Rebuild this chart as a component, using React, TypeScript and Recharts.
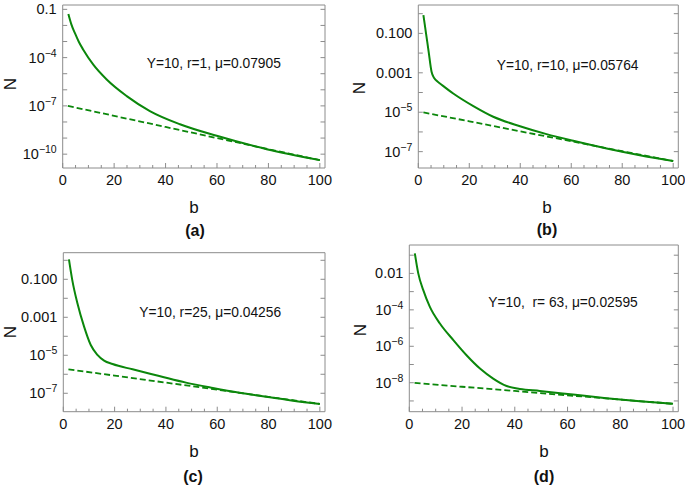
import { LineChart, Line, XAxis, YAxis } from "recharts";

const GREEN = "#0b870b";
const FRAME = "#8c8c8c";
const FONT = '"Liberation Sans", Arial, sans-serif';

// x ticks shared by every panel (b)
const bTicks = [0, 5, 10, 15, 20, 25, 30, 35, 40, 45, 50, 55, 60, 65, 70, 75, 80, 85, 90, 95, 100];
const bDash = [2, 20, 40, 60, 80, 100];

// (a) Y=10, r=1  -- values are log10(N)
const bSolidA = [2.2, 3.3, 4.8, 6.3, 8, 11.9, 17.1, 24.9, 33.9, 45.6, 59.9, 79.3, 100];
const logNSolidA = [-1.29, -1.9, -2.5, -3.03, -3.51, -4.44, -5.36, -6.39, -7.32, -8.14, -8.86, -9.69, -10.37];
const logNDashA = [-7.0, -7.62, -8.31, -9.0, -9.69, -10.37];

// (b) Y=10, r=10
const bSolidB = [2, 3, 4, 5.2, 6.3, 7.3, 8.5, 13.7, 21.6, 29.4, 39.9, 50.3, 60.8, 73.9, 86.9, 100];
const logNSolidB = [-0.07, -0.97, -1.87, -2.95, -3.28, -3.42, -3.54, -4.05, -4.69, -5.23, -5.71, -6.11, -6.45, -6.84, -7.18, -7.48];
const logNDashB = [-5.01, -5.46, -5.97, -6.47, -6.98, -7.48];

// (c) Y=10, r=25
const bSolidC = [2.2, 3.5, 5.5, 8.1, 10.7, 13.3, 15.9, 19.2, 27, 37.4, 47.8, 58.3, 68.7, 79.1, 89.6, 100];
const logNSolidC = [0.05, -1.04, -2.26, -3.49, -4.46, -4.98, -5.28, -5.46, -5.74, -6.09, -6.44, -6.72, -6.97, -7.18, -7.39, -7.56];
const logNDashC = [-5.74, -6.07, -6.44, -6.81, -7.19, -7.56];

// (d) Y=10, r=63
const bSolidD = [2.1, 3.4, 5.3, 7.8, 11.6, 16.7, 21.7, 26.8, 31.8, 36.9, 41.9, 49.5, 62.1, 74.7, 87.4, 100];
const logNSolidD = [-0.9, -2.0, -2.92, -3.84, -4.75, -5.66, -6.49, -7.22, -7.77, -8.18, -8.34, -8.45, -8.65, -8.85, -9.02, -9.16];
const logNDashD = [-8.01, -8.22, -8.45, -8.69, -8.92, -9.16];

// y ticks (decades) and their labels
const yTicksA = [-10, -9, -8, -7, -6, -5, -4, -3, -2, -1];
const yLabelsA: Record<number, string> = { [-1]: "0.1", [-4]: "10^−4", [-7]: "10^−7", [-10]: "10^−10" };
const yTicksB = [-7, -6, -5, -4, -3, -2, -1, 0];
const yLabelsB: Record<number, string> = { [-1]: "0.100", [-3]: "0.001", [-5]: "10^−5", [-7]: "10^−7" };
const yTicksC = [-7, -6, -5, -4, -3, -2, -1, 0];
const yLabelsC: Record<number, string> = { [-1]: "0.100", [-3]: "0.001", [-5]: "10^−5", [-7]: "10^−7" };
const yTicksD = [-9, -8, -7, -6, -5, -4, -3, -2, -1];
const yLabelsD: Record<number, string> = { [-2]: "0.01", [-4]: "10^−4", [-6]: "10^−6", [-8]: "10^−8" };

const toPoints = (bs: number[], ns: number[]) => bs.map((b, i) => ({ b, n: ns[i] }));

// axes take 1px each, margins are reduced by that amount
const AX = 1;

const panels = [
  {
    key: "a",
    box: { left: 0, top: 0, width: 340, height: 240 },
    plot: { top: 5, left: 62.7, right: 15, bottom: 72 },
    yDomain: [-10.86, -0.73],
    yTicks: yTicksA,
    yLabels: yLabelsA,
    solid: toPoints(bSolidA, logNSolidA),
    dash: toPoints(bDash, logNDashA),
  },
  {
    key: "b",
    box: { left: 340, top: 0, width: 345, height: 240 },
    plot: { top: 5, left: 78.3, right: 6.7, bottom: 72 },
    yDomain: [-7.83, 0.44],
    yTicks: yTicksB,
    yLabels: yLabelsB,
    solid: toPoints(bSolidB, logNSolidB),
    dash: toPoints(bDash, logNDashB),
  },
  {
    key: "c",
    box: { left: 0, top: 240, width: 340, height: 245 },
    plot: { top: 12.7, left: 63.3, right: 15, bottom: 73.3 },
    yDomain: [-7.97, 0.4],
    yTicks: yTicksC,
    yLabels: yLabelsC,
    solid: toPoints(bSolidC, logNSolidC),
    dash: toPoints(bDash, logNDashC),
  },
  {
    key: "d",
    box: { left: 340, top: 240, width: 345, height: 245 },
    plot: { top: 5, left: 69.3, right: 6.7, bottom: 73.3 },
    yDomain: [-9.59, -0.44],
    yTicks: yTicksD,
    yLabels: yLabelsD,
    solid: toPoints(bSolidD, logNSolidD),
    dash: toPoints(bDash, logNDashD),
  },
];

const BottomTick = (props: any) => {
  const { x, y, payload } = props;
  const major = payload.value % 20 === 0;
  return (
    <g>
      <line x1={x} x2={x} y1={y} y2={y - (major ? 5 : 3)} stroke={FRAME} />
      {major && (
        <text x={x} y={y + 17} textAnchor="middle" fontSize={14.5} fill="#111" fontFamily={FONT}>
          {payload.value}
        </text>
      )}
    </g>
  );
};

const TopTick = (props: any) => {
  const { x, y, payload } = props;
  const major = payload.value % 20 === 0;
  return <line x1={x} x2={x} y1={y} y2={y + (major ? 5 : 3)} stroke={FRAME} />;
};

const makeLeftTick = (labels: Record<number, string>) => (props: any) => {
  const { x, y, payload } = props;
  const label = labels[payload.value];
  let content: any = null;
  if (label) {
    const parts = label.split("^");
    content = (
      <text x={x - 6} y={y + 5} textAnchor="end" fontSize={14.5} fill="#111" fontFamily={FONT}>
        {parts[0]}
        {parts[1] && (
          <tspan dy={-6} fontSize={10.5}>
            {parts[1]}
          </tspan>
        )}
      </text>
    );
  }
  return (
    <g>
      <line x1={x} x2={x + 4.5} y1={y} y2={y} stroke={FRAME} />
      {content}
    </g>
  );
};

const RightTick = (props: any) => {
  const { x, y } = props;
  return <line x1={x} x2={x - 4.5} y1={y} y2={y} stroke={FRAME} />;
};

// annotation, axis titles and panel letters
const notes = [
  { text: "Y=10, r=1, μ=0.07905", x: 146.7, y: 68 },
  { text: "Y=10, r=10, μ=0.05764", x: 496.7, y: 70 },
  { text: "Y=10, r=25, μ=0.04256", x: 139.3, y: 316.5 },
  { text: "Y=10,  r= 63, μ=0.02595", x: 488.3, y: 306.5 },
];
const bTitles = [
  { x: 194, y: 212.5 },
  { x: 547, y: 212.5 },
  { x: 194, y: 457 },
  { x: 544, y: 457 },
];
const panelLetters = [
  { text: "(a)", x: 195, y: 236 },
  { text: "(b)", x: 547, y: 235 },
  { text: "(c)", x: 193, y: 482 },
  { text: "(d)", x: 544, y: 482 },
];
const nTitles = [
  { x: 10, y: 84 },
  { x: 359.5, y: 88 },
  { x: 10, y: 332 },
  { x: 360, y: 330 },
];

export default function App() {
  return (
    <div
      style={{
        position: "absolute",
        left: 0,
        top: 0,
        width: 685,
        height: 485,
        background: "#fff",
        fontFamily: FONT,
        overflow: "hidden",
      }}
    >
      {panels.map((p) => (
        <div key={p.key} style={{ position: "absolute", left: p.box.left, top: p.box.top }}>
          <LineChart
            width={p.box.width}
            height={p.box.height}
            margin={{
              top: p.plot.top - AX,
              left: p.plot.left - AX,
              right: p.plot.right - AX,
              bottom: p.plot.bottom - AX,
            }}
          >
            <XAxis
              dataKey="b"
              type="number"
              domain={[0, 102]}
              ticks={bTicks}
              interval={0}
              height={AX}
              tickSize={0}
              tickMargin={0}
              tickLine={false}
              axisLine={{ stroke: FRAME }}
              tick={BottomTick}
              allowDataOverflow
            />
            <XAxis
              xAxisId="top"
              orientation="top"
              type="number"
              domain={[0, 102]}
              ticks={bTicks}
              interval={0}
              height={AX}
              tickSize={0}
              tickMargin={0}
              tickLine={false}
              axisLine={{ stroke: FRAME }}
              tick={TopTick}
              allowDataOverflow
            />
            <YAxis
              type="number"
              domain={p.yDomain}
              ticks={p.yTicks}
              interval={0}
              width={AX}
              tickSize={0}
              tickMargin={0}
              tickLine={false}
              axisLine={{ stroke: FRAME }}
              tick={makeLeftTick(p.yLabels)}
              allowDataOverflow
            />
            <YAxis
              yAxisId="right"
              orientation="right"
              type="number"
              domain={p.yDomain}
              ticks={p.yTicks}
              interval={0}
              width={AX}
              tickSize={0}
              tickMargin={0}
              tickLine={false}
              axisLine={{ stroke: FRAME }}
              tick={RightTick}
              allowDataOverflow
            />
            <Line
              data={p.dash}
              dataKey="n"
              type="linear"
              stroke={GREEN}
              strokeWidth={1.8}
              strokeDasharray="6 3"
              dot={false}
              isAnimationActive={false}
            />
            <Line
              data={p.solid}
              dataKey="n"
              type="monotone"
              stroke={GREEN}
              strokeWidth={2}
              dot={false}
              isAnimationActive={false}
            />
          </LineChart>
        </div>
      ))}
      <svg
        width={685}
        height={485}
        style={{ position: "absolute", left: 0, top: 0, pointerEvents: "none" }}
        fontFamily={FONT}
      >
        {notes.map((n, i) => (
          <text key={i} x={n.x} y={n.y} fontSize={13.8} fill="#111" style={{ whiteSpace: "pre" }}>
            {n.text}
          </text>
        ))}
        {bTitles.map((t, i) => (
          <text key={i} x={t.x} y={t.y} fontSize={17} fill="#111" textAnchor="middle">
            b
          </text>
        ))}
        {panelLetters.map((t, i) => (
          <text key={i} x={t.x} y={t.y} fontSize={16} fontWeight="bold" fill="#111" textAnchor="middle">
            {t.text}
          </text>
        ))}
        {nTitles.map((t, i) => (
          <text
            key={i}
            x={t.x}
            y={t.y}
            fontSize={17}
            fill="#111"
            textAnchor="middle"
            dominantBaseline="central"
            transform={`rotate(-90 ${t.x} ${t.y})`}
          >
            N
          </text>
        ))}
      </svg>
    </div>
  );
}
